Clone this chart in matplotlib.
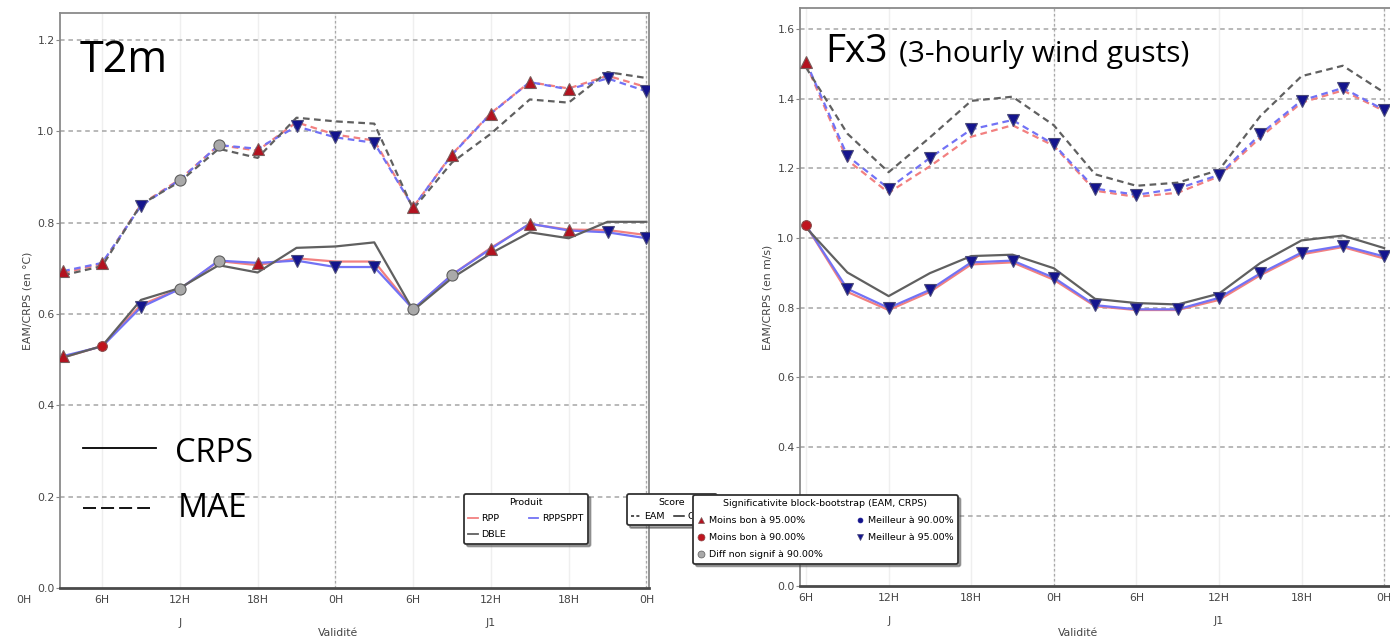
import matplotlib
matplotlib.use('Agg')
import numpy as np
import matplotlib.pyplot as plt
from matplotlib.lines import Line2D
from matplotlib.transforms import offset_copy, Bbox, TransformedBbox

# --- data ---
t2m_hours = [3, 6, 9, 12, 15, 18, 21, 24, 27, 30, 33, 36, 39, 42, 45, 48]
t2m_mae_rpp = [0.690, 0.710, 0.840, 0.895, 0.970, 0.958, 1.020, 0.993, 0.980, 0.834, 0.950, 1.040, 1.108, 1.094, 1.122, 1.097]
t2m_mae_spp = [0.694, 0.712, 0.837, 0.894, 0.970, 0.962, 1.011, 0.987, 0.975, 0.834, 0.949, 1.039, 1.108, 1.092, 1.116, 1.088]
t2m_mae_dble = [0.685, 0.705, 0.840, 0.890, 0.962, 0.942, 1.030, 1.022, 1.017, 0.830, 0.932, 0.995, 1.070, 1.063, 1.130, 1.117]
t2m_crps_rpp = [0.505, 0.530, 0.620, 0.655, 0.716, 0.707, 0.722, 0.715, 0.715, 0.610, 0.686, 0.745, 0.797, 0.785, 0.784, 0.773]
t2m_crps_spp = [0.508, 0.529, 0.615, 0.655, 0.717, 0.712, 0.717, 0.703, 0.703, 0.611, 0.686, 0.743, 0.798, 0.783, 0.779, 0.766]
t2m_crps_dble = [0.505, 0.530, 0.631, 0.657, 0.707, 0.691, 0.745, 0.748, 0.757, 0.608, 0.679, 0.733, 0.779, 0.766, 0.802, 0.802]
t2m_mae_sig = ['up', 'up', 'dn', 'gc', 'gc', 'up', 'dn', 'dn', 'dn', 'up', 'up', 'up', 'up', 'up', 'dn', 'dn']
t2m_crps_sig = ['up', 'rc', 'dn', 'gc', 'gc', 'up', 'dn', 'dn', 'dn', 'gc', 'gc', 'up', 'up', 'up', 'dn', 'dn']

fx3_hours = [6, 9, 12, 15, 18, 21, 24, 27, 30, 33, 36, 39, 42, 45, 48]
fx3_mae_rpp = [1.500, 1.224, 1.130, 1.206, 1.291, 1.324, 1.265, 1.136, 1.118, 1.130, 1.177, 1.289, 1.389, 1.424, 1.365]
fx3_mae_spp = [1.506, 1.236, 1.142, 1.230, 1.312, 1.339, 1.269, 1.142, 1.124, 1.142, 1.181, 1.298, 1.395, 1.431, 1.368]
fx3_mae_dble = [1.490, 1.300, 1.189, 1.289, 1.394, 1.406, 1.324, 1.183, 1.150, 1.159, 1.195, 1.350, 1.465, 1.495, 1.418]
fx3_crps_rpp = [1.036, 0.845, 0.793, 0.845, 0.924, 0.930, 0.880, 0.804, 0.793, 0.793, 0.822, 0.893, 0.953, 0.974, 0.941]
fx3_crps_spp = [1.036, 0.854, 0.799, 0.851, 0.930, 0.935, 0.886, 0.807, 0.795, 0.795, 0.828, 0.898, 0.958, 0.978, 0.947]
fx3_crps_dble = [1.030, 0.901, 0.833, 0.899, 0.948, 0.952, 0.913, 0.825, 0.813, 0.809, 0.840, 0.928, 0.993, 1.007, 0.971]
fx3_mae_sig = ['up'] + ['dn'] * 14
fx3_crps_sig = ['rc'] + ['dn'] * 14

tick_hours = [6, 12, 18, 24, 30, 36, 42, 48]
tick_labels = ['6H', '12H', '18H', '0H', '6H', '12H', '18H', '0H']
day_labels = ['J', 'J1']
day_hours = [12, 36]

products = ['RPP', 'RPPSPPT', 'DBLE']
prod_colors = {'RPP': '#f28080', 'RPPSPPT': '#7272f5', 'DBLE': '#606060'}

sig_labels = {'up': 'Moins bon à 95.00%', 'rc': 'Moins bon à 90.00%',
              'gc': 'Diff non signif à 90.00%', 'bc': 'Meilleur à 90.00%',
              'dn': 'Meilleur à 95.00%'}
sig_style = {
    'up': dict(marker='^', mfc='#b3121f', mec='#7a5a5a', ms=8),
    'rc': dict(marker='o', mfc='#c0141e', mec='#8a4a4a', ms=7),
    'gc': dict(marker='o', mfc='#a9a9a9', mec='#5e5e5e', ms=8),
    'bc': dict(marker='o', mfc='#12128c', mec='#12128c', ms=5),
    'dn': dict(marker='v', mfc='#14148e', mec='#4a4a7a', ms=8),
}

plt.rcParams['font.family'] = 'DejaVu Sans'
SMALL = 7.8
DASH = (0, (3, 2))

fig = plt.figure(figsize=(13.9, 6.4), dpi=100)
W, H = 1390.0, 640.0

ax1 = fig.add_axes([60 / W, 1 - 588 / H, 589 / W, 575.3 / H])
ax2 = fig.add_axes([800 / W, 1 - 586 / H, 591 / W, 577.7 / H])


def style_axes(ax, xlim, ylim, ylabel):
    ax.set_xlim(*xlim)
    ax.set_ylim(*ylim)
    for h in tick_hours:
        ax.axvline(h, color='#efefef', lw=1, zorder=0)
    for h in (24, 48):
        ax.axvline(h, color='#a8a8a8', lw=0.9, ls=(0, (2, 2)), zorder=0.5)
    for y in np.arange(0.2, ylim[1], 0.2):
        ax.axhline(y, color='#a5a5a5', lw=1.1, ls=(0, (3, 2.5)), zorder=0.5)
    ax.set_xticks(tick_hours)
    ax.set_xticklabels(tick_labels)
    ax.set_yticks(np.arange(0, ylim[1], 0.2))
    ax.set_yticklabels(['%.1f' % v for v in np.arange(0, ylim[1], 0.2)])
    ax.tick_params(axis='x', length=0, pad=5, labelsize=SMALL, labelcolor='#444')
    ax.tick_params(axis='y', length=3, direction='out', color='#888', pad=1,
                   labelsize=SMALL, labelcolor='#444')
    for side in ['left', 'right', 'top']:
        ax.spines[side].set_color('#8a8a8a')
        ax.spines[side].set_linewidth(1.3)
    ax.spines['bottom'].set_color('#4a4a4a')
    ax.spines['bottom'].set_linewidth(2.0)
    ax.set_ylabel(ylabel, fontsize=SMALL, color='#444', labelpad=3)
    xt = ax.get_xaxis_transform()
    for lab, h in zip(day_labels, day_hours):
        ax.text(h, -0.06, lab, transform=xt, ha='center', va='center',
                fontsize=SMALL, color='#444')


def draw_panel(ax, hours, mae, crps, mae_sig, crps_sig):
    for name, vals in zip(products, mae):
        ax.plot(hours, vals, color=prod_colors[name], lw=1.6, ls=DASH, zorder=2)
    for name, vals in zip(products, crps):
        ax.plot(hours, vals, color=prod_colors[name], lw=1.6, zorder=2)
    h = np.array(hours)
    for vals, sig in ((mae[1], mae_sig), (crps[1], crps_sig)):
        v = np.array(vals)
        s = np.array(sig)
        for code, st in sig_style.items():
            m = s == code
            if m.any():
                ax.plot(h[m], v[m], ls='none', zorder=3, mew=0.8, **st)


style_axes(ax1, (2.75, 48.2), (0, 1.26), 'EAM/CRPS (en °C)')
style_axes(ax2, (5.56, 48.5), (0, 1.66), 'EAM/CRPS (en m/s)')
# the 0.2 label of the right panel is hidden under the legend in the reference
ax2.get_yticklabels()[1].set_visible(False)

draw_panel(ax1, t2m_hours, [t2m_mae_rpp, t2m_mae_spp, t2m_mae_dble],
           [t2m_crps_rpp, t2m_crps_spp, t2m_crps_dble], t2m_mae_sig, t2m_crps_sig)
draw_panel(ax2, fx3_hours, [fx3_mae_rpp, fx3_mae_spp, fx3_mae_dble],
           [fx3_crps_rpp, fx3_crps_spp, fx3_crps_dble], fx3_mae_sig, fx3_crps_sig)

# the 0H label that sits left of the first panel
tr = offset_copy(ax1.get_xaxis_transform(), fig=fig, x=0, y=-5, units='points')
ax1.text(0, 0, '0H', transform=tr, ha='center', va='top', fontsize=SMALL, color='#444')

fig.text(338 / W, 1 - 633 / H, 'Validité', ha='center', va='center', fontsize=SMALL, color='#444')
fig.text(1078 / W, 1 - 633 / H, 'Validité', ha='center', va='center', fontsize=SMALL, color='#444')

# legends
leg_kw = dict(fontsize=6.8, title_fontsize=6.8, frameon=True, fancybox=True, shadow=True,
              framealpha=1, borderaxespad=0, bbox_transform=fig.transFigure,
              loc='upper left', handletextpad=0.4, borderpad=0.45)

prod_handles = [Line2D([], [], color=prod_colors[p], lw=1.3) for p in ['RPP', 'DBLE', 'RPPSPPT']]
lg1 = ax1.legend(prod_handles, ['RPP', 'DBLE', 'RPPSPPT'], ncol=2, title='Produit',
                 bbox_to_anchor=(464 / W, 1 - 494 / H), handlelength=1.0,
                 columnspacing=2.4, labelspacing=0.75, **leg_kw)
lg1.get_frame().set_edgecolor('#333')
lg1.get_frame().set_linewidth(1.3)
ax1.add_artist(lg1)

score_handles = [Line2D([], [], color='#222', lw=1.1, ls=(0, (2, 1.5))),
                 Line2D([], [], color='#222', lw=1.1)]
lg2 = ax1.legend(score_handles, ['EAM', 'CRPS'], ncol=2, title='Score',
                 bbox_to_anchor=(627 / W, 1 - 494 / H), handlelength=1.0,
                 columnspacing=1.0, **leg_kw)
lg2.get_frame().set_edgecolor('#333')
lg2.get_frame().set_linewidth(1.3)
# its right part is covered by the significance legend: clip there
clip = TransformedBbox(Bbox([[0, 0], [692 / W, 1]]), fig.transFigure)
for t in lg2.get_texts():
    t.set_clip_box(clip)
    t.set_clip_on(True)

order = ['up', 'rc', 'gc', 'bc', 'dn']
sig_handles = []
for code in order:
    st = dict(sig_style[code])
    st['ms'] = 5 if code != 'bc' else 3.5
    sig_handles.append(Line2D([], [], ls='none', mew=0.5, **st))
lg3 = ax2.legend(sig_handles, [sig_labels[c] for c in order], ncol=2,
                 title='Significativite block-bootstrap (EAM, CRPS)',
                 bbox_to_anchor=(693 / W, 1 - 495 / H), handlelength=0.8,
                 columnspacing=3.6, labelspacing=0.85, **leg_kw)
lg3.get_frame().set_edgecolor('#333')
lg3.get_frame().set_linewidth(1.3)

# big annotations
big = ['Open Sans', 'DejaVu Sans']
fig.text(80 / W, 1 - 72 / H, 'T2m', fontsize=31, family=big, va='baseline')
fig.text(825 / W, 1 - 62 / H, 'Fx3', fontsize=28, family=big, va='baseline')
fig.text(899 / W, 1 - 62 / H, '(3-hourly wind gusts)', fontsize=21.5, family=big, va='baseline')
fig.text(175 / W, 1 - 462 / H, 'CRPS', fontsize=23.5, family=big, va='baseline')
fig.text(178 / W, 1 - 517 / H, 'MAE', fontsize=24, family=big, va='baseline')
fig.add_artist(Line2D([83 / W, 156 / W], [1 - 448 / H, 1 - 448 / H], color='black', lw=1.3))
fig.add_artist(Line2D([83 / W, 150 / W], [1 - 508 / H, 1 - 508 / H], color='black', lw=1.3,
                      ls=(0, (7.2, 2.8))))

fig.savefig('out.png', dpi=100)
